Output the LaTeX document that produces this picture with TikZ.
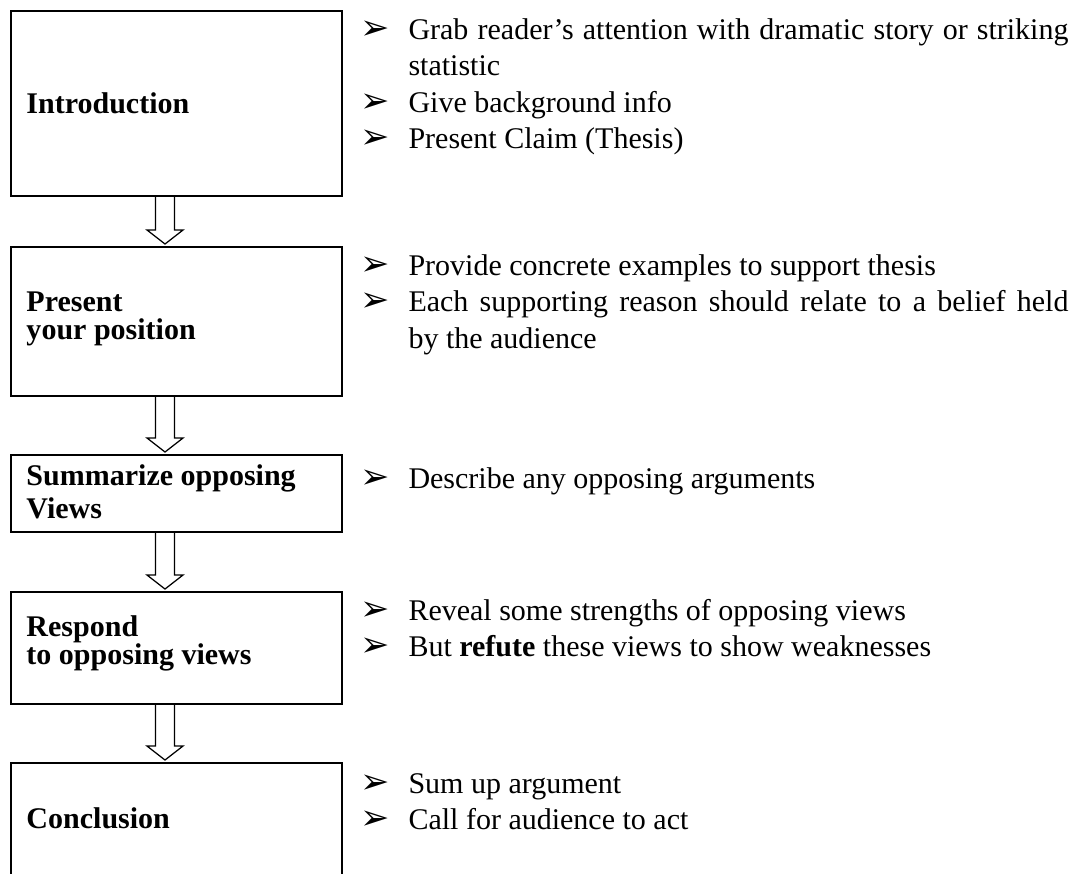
\documentclass[tikz,border=0pt]{standalone}
\usepackage{fontspec}
\setmainfont{Liberation Serif}
\newfontfamily\dingfont{DejaVu Sans}
\usetikzlibrary{positioning,calc}

\newcommand{\point}[1]{\hangindent=19.2pt\hangafter=1\noindent
  \makebox[19.2pt][l]{\dingfont\fontsize{14}{14}\selectfont ➢}#1\par}
\newcommand{\flowarrow}[2]{%
  \draw[flow] ($(#1.south)+(-21,0)$) -- ($(#2.north)+(-21,-17)$)
    -- ($(#2.north)+(-29.5,-17)$) -- ($(#2.north)+(-11.5,-3)$)
    -- ($(#2.north)+(6.5,-17)$) -- ($(#2.north)+(-2,-17)$)
    -- ($(#1.south)+(-2,0)$);}

\tikzset{
  stage/.style={draw, line width=1.1pt, minimum width=132.4pt,
    inner sep=0pt, outer sep=0pt},
  stagelabel/.style={anchor=base west, inner sep=0pt, align=left,
    font=\bfseries\fontsize{12}{13.2}\selectfont},
  points/.style={anchor=base west, inner sep=0pt, text width=283.2pt,
    align=justify, font=\fontsize{12}{14.6}\selectfont},
  flow/.style={line width=0.5pt, line join=miter},
}

\begin{document}
\begin{tikzpicture}[x=0.4pt, y=-0.4pt]
\useasboundingbox (0,0) rectangle (1070,873);
\clip (0,0) rectangle (1070,873);

% stages
\node[stage, anchor=north west, minimum height=74pt] (intro) at (11,11) {};
\node[stage, minimum height=59.6pt, below=20.4pt of intro] (position) {};
\node[stage, minimum height=30.8pt, below=23.6pt of position] (summary) {};
\node[stage, minimum height=44.8pt, below=24pt of summary] (respond) {};
\node[stage, minimum height=74pt, below=23.6pt of respond] (conclusion) {};

% labels (base = last line)
\node[stagelabel] (introlbl) at (26,113) {Introduction};
\node[stagelabel, font=\bfseries\fontsize{12}{11.2}\selectfont] (positionlbl) at (26,339) {Present\\your position};
\node[stagelabel] (summarylbl) at (26,518) {Summarize opposing\\Views};
\node[stagelabel, font=\bfseries\fontsize{12}{11}\selectfont] (respondlbl) at (26,664) {Respond\\to opposing views};
\node[stagelabel] (conclusionlbl) at (26,828) {Conclusion};

\flowarrow{intro}{position}
\flowarrow{position}{summary}
\flowarrow{summary}{respond}
\flowarrow{respond}{conclusion}

% bullet points
\node[points] (introtext) at (360,39) {\point{Grab reader’s attention with dramatic story or striking statistic}\point{Give background info}\point{Present Claim (Thesis)}};
\node[points] (positiontext) at (360,275) {\point{Provide concrete examples to support thesis}\point{Each supporting reason should relate to a belief held\linebreak by the audience}};
\node[points] (summarytext) at (360,488) {\point{Describe any opposing arguments}};
\node[points] (respondtext) at (360,620) {\point{Reveal some strengths of opposing views}\point{But \textbf{refute} these views to show weaknesses}};
\node[points] (conclusiontext) at (360,793) {\point{Sum up argument}\point{Call for audience to act}};
\end{tikzpicture}
\end{document}
